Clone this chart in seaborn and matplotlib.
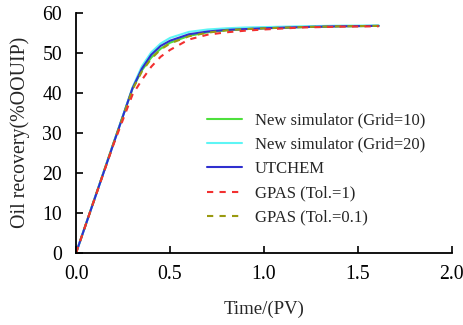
import matplotlib
matplotlib.use("Agg")
import matplotlib.pyplot as plt
import seaborn as sns
import pandas as pd

# Injected pore volumes (PV)
time_pv = [0, 0.1, 0.2, 0.3, 0.35, 0.4, 0.45, 0.5, 0.6, 0.7, 0.8, 0.9, 1.0, 1.2, 1.4, 1.61]

# Cumulative oil recovery (%OOUIP) for each run
grid10 = [0, 13.8, 27.6, 41.0, 45.6, 48.8, 51.0, 52.5, 54.2, 55.1, 55.6, 55.9, 56.1, 56.4, 56.6, 56.7]
grid20 = [0, 13.7, 27.4, 41.3, 46.6, 50.1, 52.3, 53.7, 55.2, 55.8, 56.1, 56.3, 56.4, 56.6, 56.75, 56.8]
utchem = [0, 13.7, 27.4, 41.1, 46.0, 49.5, 51.7, 53.0, 54.6, 55.3, 55.7, 55.9, 56.1, 56.4, 56.6, 56.7]
gpas_tol1 = [0, 13.7, 27.2, 39.5, 43.2, 46.5, 49.0, 50.7, 53.3, 54.5, 55.1, 55.5, 55.8, 56.3, 56.5, 56.6]
gpas_tol01 = [0, 13.7, 27.4, 40.8, 45.3, 48.5, 50.8, 52.3, 54.1, 55.0, 55.6, 55.9, 56.1, 56.4, 56.6, 56.7]

labels = ["New simulator (Grid=10)", "New simulator (Grid=20)", "UTCHEM",
          "GPAS (Tol.=1)", "GPAS (Tol.=0.1)"]
colors = ["#4ee03c", "#5ef5f5", "#2f2fcf", "#f23030", "#9a9a10"]
dashed = [False, False, False, True, True]

series = [grid10, grid20, utchem, gpas_tol1, gpas_tol01]
frames = [pd.DataFrame({"time": time_pv, "recovery": vals, "run": lab})
          for vals, lab in zip(series, labels)]
df = pd.concat(frames, ignore_index=True)

sns.set_style("ticks")
plt.rcParams["font.family"] = ["Liberation Serif", "DejaVu Serif"]

fig = plt.figure(figsize=(4.64, 3.25), dpi=100)
ax = fig.add_axes([0.164, 0.222, 0.81, 0.739])

# draw order keeps the dashed GPAS curves on top
order = [0, 1, 2, 4, 3]
handles = {}
for i in order:
    sub = df[df["run"] == labels[i]]
    sns.lineplot(data=sub, x="time", y="recovery", ax=ax, color=colors[i],
                 linewidth=1.5, label=labels[i], legend=False)
    line = ax.get_lines()[-1]
    if dashed[i]:
        line.set_dashes((3, 3))
    handles[i] = line

ax.set_xlim(0, 2.0)
ax.set_ylim(0, 60)
ax.set_xticks([0, 0.5, 1.0, 1.5, 2.0])
ax.set_xticklabels(["0.0", "0.5", "1.0", "1.5", "2.0"])
ax.set_yticks(range(0, 61, 10))
ax.tick_params(direction="in", length=5, width=1.2, labelsize=14.2, colors="black")
ax.tick_params(axis="y", pad=10)
ax.tick_params(axis="x", pad=9)
for side in ("left", "bottom"):
    ax.spines[side].set_linewidth(1.3)
    ax.spines[side].set_color("black")
for side in ("top", "right"):
    ax.spines[side].set_visible(False)

ax.set_xlabel("Time/(PV)", fontsize=13.5, labelpad=12)
ax.set_ylabel("Oil recovery(%OOUIP)", fontsize=14.3, labelpad=9)

ax.legend([handles[i] for i in range(5)], labels, frameon=False, fontsize=12,
          loc="upper left", bbox_to_anchor=(0.33, 0.612), handlelength=2.1,
          handletextpad=0.8, labelspacing=0.5, borderaxespad=0)

fig.savefig("out.png", dpi=100)
